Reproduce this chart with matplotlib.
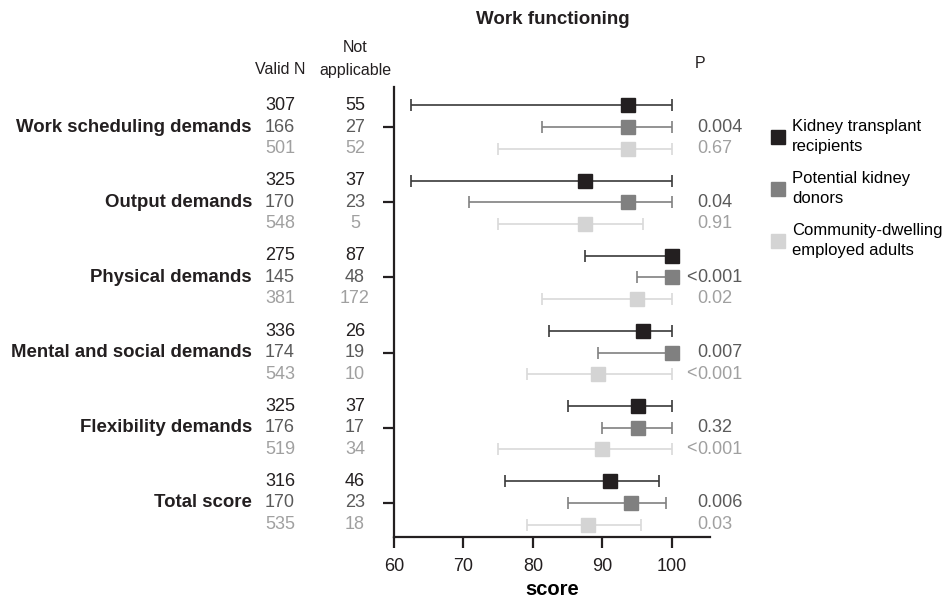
import matplotlib.pyplot as plt
import matplotlib.transforms as mtransforms
from matplotlib.lines import Line2D

plt.rcParams['font.family'] = ['Liberation Sans', 'DejaVu Sans']

domains = ["Work scheduling demands", "Output demands", "Physical demands",
           "Mental and social demands", "Flexibility demands", "Total score"]
groups = ["Kidney transplant\nrecipients", "Potential kidney\ndonors",
          "Community-dwelling\nemployed adults"]

# median, lower, upper per group (rows = domains)
ktr_med = [93.75, 87.5, 100, 95.8, 95.2, 91.1]
ktr_lo = [62.5, 62.5, 87.5, 82.3, 85.0, 76.0]
ktr_hi = [100, 100, 100, 100, 100, 98.1]
pkd_med = [93.75, 93.75, 100, 100, 95.2, 94.1]
pkd_lo = [81.25, 70.8, 95.0, 89.4, 90.0, 85.0]
pkd_hi = [100, 100, 100, 100, 100, 99.1]
com_med = [93.75, 87.5, 95.0, 89.4, 90.0, 88.0]
com_lo = [75, 75, 81.25, 79.2, 75, 79.1]
com_hi = [100, 95.8, 100, 100, 100, 95.5]

valid_n = [[307, 166, 501], [325, 170, 548], [275, 145, 381],
           [336, 174, 543], [325, 176, 519], [316, 170, 535]]
not_app = [[55, 27, 52], [37, 23, 5], [87, 48, 172],
           [26, 19, 10], [37, 17, 34], [46, 23, 18]]
p_pkd = ["0.004", "0.04", "<0.001", "0.007", "0.32", "0.006"]
p_com = ["0.67", "0.91", "0.02", "<0.001", "<0.001", "0.03"]

marker_cols = ["#231f20", "#808080", "#d4d4d4"]
line_cols = ["#3a3a3a", "#808080", "#d9d9d9"]
text_cols = ["#231f20", "#5a5a5a", "#a0a0a0"]

fig = plt.figure(figsize=(9.43, 5.99), dpi=100)
ax = fig.add_axes([394/943, 1-537/599, (710-394)/943, (537-87)/599])

off = 0.287
series = [(ktr_med, ktr_lo, ktr_hi), (pkd_med, pkd_lo, pkd_hi), (com_med, com_lo, com_hi)]
for g, (med, lo, hi) in enumerate(series):
    ys = [i + (g - 1) * off for i in range(len(domains))]
    xerr = [[m - l for m, l in zip(med, lo)], [h - m for m, h in zip(med, hi)]]
    ax.errorbar(med, ys, xerr=xerr, fmt='s', color=marker_cols[g], ecolor=line_cols[g],
                elinewidth=1.2, capsize=4.5, capthick=1.2, markersize=10, zorder=3)

ax.set_xlim(60, 105.5)
ax.set_ylim(len(domains) - 1 + 0.453, -0.533)
ax.set_xticks([60, 70, 80, 90, 100])
ax.set_yticks(range(len(domains)))
ax.set_yticklabels([])
ax.tick_params(axis='both', direction='out', length=8, width=1.6, labelsize=13,
               colors='#231f20', pad=7)
for s in ['top', 'right']:
    ax.spines[s].set_visible(False)
for s in ['left', 'bottom']:
    ax.spines[s].set_linewidth(1.6)
    ax.spines[s].set_color('#231f20')
ax.set_xlabel("score", fontsize=14.5, fontweight='bold', labelpad=4)

tr = mtransforms.blended_transform_factory(fig.transFigure, ax.transData)
for i, name in enumerate(domains):
    ax.text(252/943, i, name, transform=tr, ha='right', va='center',
            fontsize=13.4, fontweight='bold', color='#231f20')
    for g in range(3):
        y = i + (g - 1) * off
        ax.text(280/943, y, str(valid_n[i][g]), transform=tr, ha='center', va='center',
                fontsize=13, color=text_cols[g])
        ax.text(355/943, y, str(not_app[i][g]), transform=tr, ha='center', va='center',
                fontsize=13, color=text_cols[g])
    for g, pv in ((1, p_pkd[i]), (2, p_com[i])):
        y = i + (g - 1) * off
        if pv.startswith("<"):
            ax.text(697/943, y, "<", transform=tr, ha='right', va='center',
                    fontsize=13, color=text_cols[g])
            pv = pv[1:]
        ax.text(697/943, y, pv, transform=tr, ha='left', va='center',
                fontsize=13, color=text_cols[g])

fig.text(553/943, 1-20/599, "Work functioning", ha='center', va='center',
         fontsize=13.5, fontweight='bold', color='#231f20')
fig.text(280/943, 1-70/599, "Valid N", ha='center', va='center', fontsize=11.5, color='#231f20')
fig.text(355/943, 1-48/599, "Not", ha='center', va='center', fontsize=11.5, color='#231f20')
fig.text(355/943, 1-70/599, "applicable", ha='center', va='center', fontsize=11.5,
         color='#231f20')
fig.text(700/943, 1-63/599, "P", ha='center', va='center', fontsize=11.5, color='#231f20')

handles = [Line2D([], [], marker='s', linestyle='none', color=c, markersize=10.5)
           for c in marker_cols]
leg = fig.legend(handles, groups, loc='upper left', bbox_to_anchor=(761/943, 1-112/599),
                 frameon=False, fontsize=12, handletextpad=0.25, labelspacing=1.0,
                 handlelength=1.2, borderaxespad=0)
for t in leg.get_texts():
    t.set_linespacing(1.45)

fig.savefig("out.png", dpi=100)
